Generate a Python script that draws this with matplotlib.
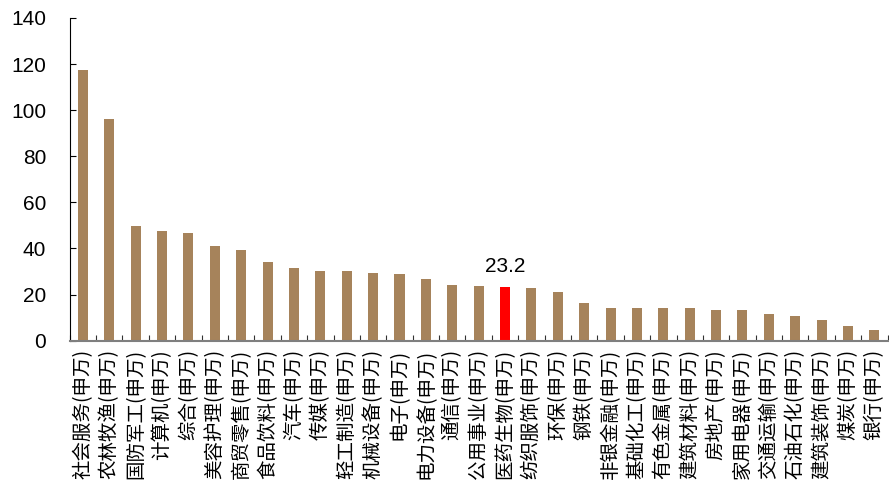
import matplotlib
matplotlib.use("Agg")
import matplotlib.pyplot as plt
import numpy as np

categories = [
    "社会服务(申万)", "农林牧渔(申万)", "国防军工(申万)", "计算机(申万)",
    "综合(申万)", "美容护理(申万)", "商贸零售(申万)", "食品饮料(申万)",
    "汽车(申万)", "传媒(申万)", "轻工制造(申万)", "机械设备(申万)",
    "电子(申万)", "电力设备(申万)", "通信(申万)", "公用事业(申万)",
    "医药生物(申万)", "纺织服饰(申万)", "环保(申万)", "钢铁(申万)",
    "非银金融(申万)", "基础化工(申万)", "有色金属(申万)", "建筑材料(申万)",
    "房地产(申万)", "家用电器(申万)", "交通运输(申万)", "石油石化(申万)",
    "建筑装饰(申万)", "煤炭(申万)", "银行(申万)",
]
values = [
    117.4, 96.0, 49.8, 47.5, 46.8, 41.0, 39.2, 33.9,
    31.6, 30.3, 30.3, 29.4, 28.7, 26.6, 24.0, 23.6,
    23.2, 22.7, 21.0, 16.5, 14.2, 14.2, 14.0, 14.0,
    13.2, 13.2, 11.7, 10.9, 8.9, 6.2, 4.6,
]
highlight = "医药生物(申万)"

bar_color = "#A6835B"
hl_color = "#FF0000"

plt.rcParams["font.family"] = ["Liberation Sans", "DejaVu Sans"]

fig = plt.figure(figsize=(8.89, 4.98), dpi=100)
ax = fig.add_axes([0.0784, 0.316, 0.92, 0.648])

x = np.arange(len(categories))
colors = [hl_color if c == highlight else bar_color for c in categories]
ax.bar(x, values, width=0.38, color=colors, edgecolor="none", zorder=2)

# value label over the highlighted bar
hi = categories.index(highlight)
ax.annotate(f"{values[hi]:.1f}", (x[hi], values[hi]), xytext=(0, 8),
            textcoords="offset points", ha="center", va="bottom", fontsize=15)

ax.set_xlim(-0.5, len(categories) - 0.5)
ax.set_ylim(0, 140)
ax.set_yticks(np.arange(0, 141, 20))
ax.tick_params(axis="y", direction="in", length=4.5, width=0.8, labelsize=15, pad=17)

# category names sit between boundary ticks
ax.set_xticks(np.arange(-0.5, len(categories), 1.0))
ax.set_xticklabels([])
ax.set_xticks(x, minor=True)
ax.set_xticklabels(categories, minor=True, rotation=90, fontsize=14,
                   family=["Noto Sans CJK SC", "DejaVu Sans"])
ax.tick_params(axis="x", which="major", direction="in", length=4.5, width=0.8, color="#333333")
ax.tick_params(axis="x", which="minor", length=0, pad=6)

for side in ("top", "right"):
    ax.spines[side].set_visible(False)
ax.spines["left"].set_linewidth(0.8)
ax.spines["bottom"].set_color("#7F7F7F")
ax.spines["bottom"].set_linewidth(1.5)

fig.savefig("out.png", dpi=100)
